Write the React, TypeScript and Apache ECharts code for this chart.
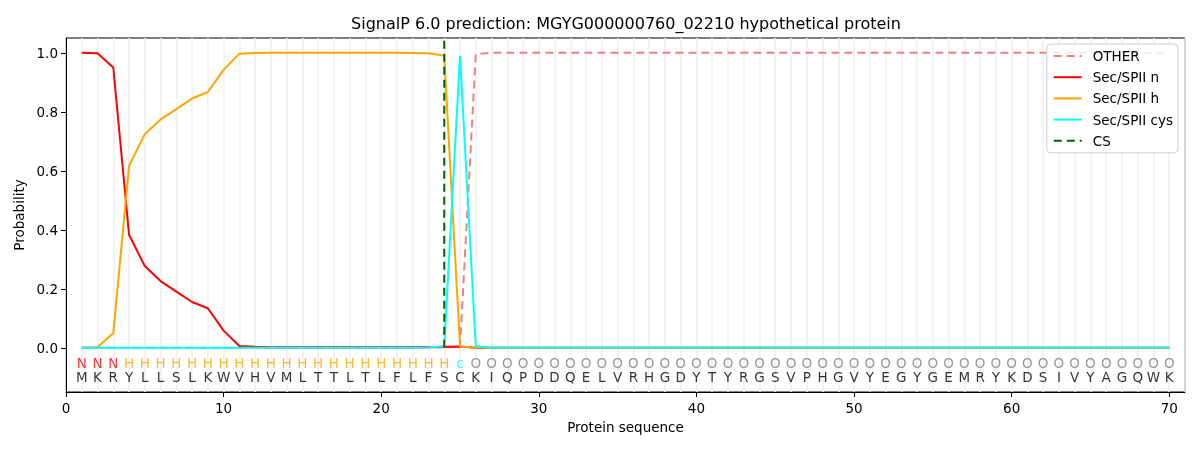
import React, { useEffect, useRef } from "react";
import * as echarts from "echarts";

const TITLE = "SignalP 6.0 prediction: MGYG000000760_02210 hypothetical protein";
const SEQUENCE = "MKRYLLSLKWVHVMLTTLTLFLFSCKIQPDDQELVRHGDYTYRGSVPHGVYEGYGEMRYKDSIVYAGQWK".split("");
const ANNOT = [
  "N","N","N",
  "H","H","H","H","H","H","H","H","H","H","H","H","H","H","H","H","H","H","H","H","H",
  "c",
  ...Array(45).fill("O"),
];
const ANNOT_COLORS: Record<string, string> = { N: "#ff0000", H: "#ffa500", c: "#00ffff", O: "#808080" };

const OTHER = [
  0, 0, 0, 0, 0, 0, 0, 0, 0, 0,
  0, 0, 0, 0, 0, 0, 0, 0, 0, 0,
  0, 0, 0.001, 0.002, 0.003, 0.995, 1, 1, 1, 1,
  1, 1, 1, 1, 1, 1, 1, 1, 1, 1,
  1, 1, 1, 1, 1, 1, 1, 1, 1, 1,
  1, 1, 1, 1, 1, 1, 1, 1, 1, 1,
  1, 1, 1, 1, 1, 1, 1, 1, 1, 1,
];
const SEC_N = [
  1.0, 0.998, 0.95, 0.383, 0.277, 0.226, 0.19, 0.155, 0.134, 0.058,
  0.006, 0.003, 0.002, 0.002, 0.002, 0.002, 0.002, 0.002, 0.002, 0.002,
  0.002, 0.002, 0.002, 0.003, 0.004, 0, 0, 0, 0, 0,
  0, 0, 0, 0, 0, 0, 0, 0, 0, 0,
  0, 0, 0, 0, 0, 0, 0, 0, 0, 0,
  0, 0, 0, 0, 0, 0, 0, 0, 0, 0,
  0, 0, 0, 0, 0, 0, 0, 0, 0, 0,
];
const SEC_H = [
  0, 0.002, 0.05, 0.616, 0.724, 0.774, 0.809, 0.845, 0.867, 0.942,
  0.997, 0.999, 1, 1, 1, 1, 1, 1, 1, 1,
  1, 0.999, 0.998, 0.99, 0.004, 0.001, 0, 0, 0, 0,
  0, 0, 0, 0, 0, 0, 0, 0, 0, 0,
  0, 0, 0, 0, 0, 0, 0, 0, 0, 0,
  0, 0, 0, 0, 0, 0, 0, 0, 0, 0,
  0, 0, 0, 0, 0, 0, 0, 0, 0, 0,
];
const SEC_CYS = [
  0, 0, 0, 0, 0, 0, 0, 0, 0, 0,
  0, 0, 0, 0, 0, 0, 0, 0, 0, 0,
  0, 0, 0.001, 0.005, 0.99, 0.005, 0, 0, 0, 0,
  0, 0, 0, 0, 0, 0, 0, 0, 0, 0,
  0, 0, 0, 0, 0, 0, 0, 0, 0, 0,
  0, 0, 0, 0, 0, 0, 0, 0, 0, 0,
  0, 0, 0, 0, 0, 0, 0, 0, 0, 0,
];
const CS_POS = 24;
const X_TICKS = [0, 10, 20, 30, 40, 50, 60, 70];
const Y_TICKS = [0, 0.2, 0.4, 0.6, 0.8, 1.0];

const FONT = "DejaVu Sans";

function pairs(vals: number[]) {
  return vals.map((v, i) => [i + 1, v]);
}

export default function App() {
  const ref = useRef<HTMLDivElement>(null);
  useEffect(() => {
    if (!ref.current) return;
    const chart = echarts.init(ref.current, undefined, { renderer: "svg" });
    const seqData = SEQUENCE.map((s, i) => ({ name: s, value: [i + 1, -0.1] }));
    const annData = ANNOT.map((a, i) => ({
      name: a,
      value: [i + 1, -0.05],
      label: { color: ANNOT_COLORS[a] },
    }));
    chart.setOption({
      animation: false,
      textStyle: { fontFamily: FONT },
      grid: {
        left: 66, right: 15, top: 38, bottom: 58,
        show: true, borderColor: "#000", borderWidth: 1, backgroundColor: "transparent",
      },
      graphic: [
        {
          type: "text", x: 626, y: 23, silent: true,
          style: {
            text: TITLE, fontFamily: FONT, fontSize: 16, fill: "#000",
            textAlign: "center", textVerticalAlign: "middle",
          },
        },
      ],
      legend: {
        orient: "vertical", right: 22, top: 44,
        padding: [5, 5, 5, 6], itemGap: 7.2, itemWidth: 28, itemHeight: 14,
        backgroundColor: "rgba(255,255,255,0.8)", borderColor: "#cccccc", borderWidth: 1, borderRadius: 4,
        itemStyle: { opacity: 0 },
        textStyle: { fontFamily: FONT, fontSize: 13.5, color: "#000", padding: [0, 0, 0, 6] },
        data: ["OTHER", "Sec/SPII n", "Sec/SPII h", "Sec/SPII cys", "CS"],
      },
      xAxis: [
        {
          type: "value", min: 0, max: 71,
          name: "Protein sequence", nameLocation: "middle", nameGap: 28,
          nameTextStyle: { fontFamily: FONT, fontSize: 13.5, color: "#000" },
          axisLine: { show: true, onZero: false, lineStyle: { color: "#000", width: 1 } },
          axisTick: { show: true, length: 5, lineStyle: { color: "#000" }, customValues: X_TICKS },
          axisLabel: { show: true, margin: 9, fontFamily: FONT, fontSize: 13.5, color: "#000", customValues: X_TICKS },
          splitLine: { show: false },
        },
        {
          type: "value", min: 0, max: 71, interval: 1, position: "bottom",
          axisLine: { show: false }, axisTick: { show: false }, axisLabel: { show: false },
          splitLine: { show: true, lineStyle: { color: "#efefef", width: 1.5 } },
        },
      ],
      yAxis: {
        type: "value", min: -0.15, max: 1.05,
        name: "Probability", nameLocation: "middle", nameGap: 37,
        nameTextStyle: { fontFamily: FONT, fontSize: 13.5, color: "#000" },
        axisLine: { show: true, onZero: false, lineStyle: { color: "#000", width: 1 } },
        axisTick: { show: true, length: 5, lineStyle: { color: "#000" }, customValues: Y_TICKS },
        axisLabel: {
          show: true, margin: 8, fontFamily: FONT, fontSize: 13.5, color: "#000",
          customValues: Y_TICKS, formatter: (v: number) => v.toFixed(1),
        },
        splitLine: { show: false },
      },
      series: [
        {
          name: "OTHER", type: "line", data: pairs(OTHER), symbol: "none",
          lineStyle: { color: "#f08080", width: 2, type: [8, 5] }, itemStyle: { color: "#f08080" },
        },
        {
          name: "Sec/SPII n", type: "line", data: pairs(SEC_N), symbol: "none",
          lineStyle: { color: "#ff0000", width: 2 }, itemStyle: { color: "#ff0000" },
        },
        {
          name: "Sec/SPII h", type: "line", data: pairs(SEC_H), symbol: "none",
          lineStyle: { color: "#ffa500", width: 2 }, itemStyle: { color: "#ffa500" },
        },
        {
          name: "Sec/SPII cys", type: "line", data: pairs(SEC_CYS), symbol: "none",
          lineStyle: { color: "#00ffff", width: 2 }, itemStyle: { color: "#00ffff" },
        },
        {
          name: "CS", type: "line", data: [[CS_POS, 0], [CS_POS, 1.05]], symbol: "none",
          lineStyle: { color: "#006400", width: 2, type: [8, 5] }, itemStyle: { color: "#006400" },
        },
        {
          type: "scatter", data: annData, symbolSize: 0, silent: true,
          label: { show: true, position: "inside", formatter: "{b}", fontFamily: FONT, fontSize: 13.5 },
        },
        {
          type: "scatter", data: seqData, symbolSize: 0, silent: true,
          label: { show: true, position: "inside", formatter: "{b}", fontFamily: FONT, fontSize: 13.5, color: "#000" },
        },
      ],
    });
    return () => chart.dispose();
  }, []);
  return <div ref={ref} style={{ position: "fixed", left: 0, top: 0, width: 1200, height: 450 }} />;
}
